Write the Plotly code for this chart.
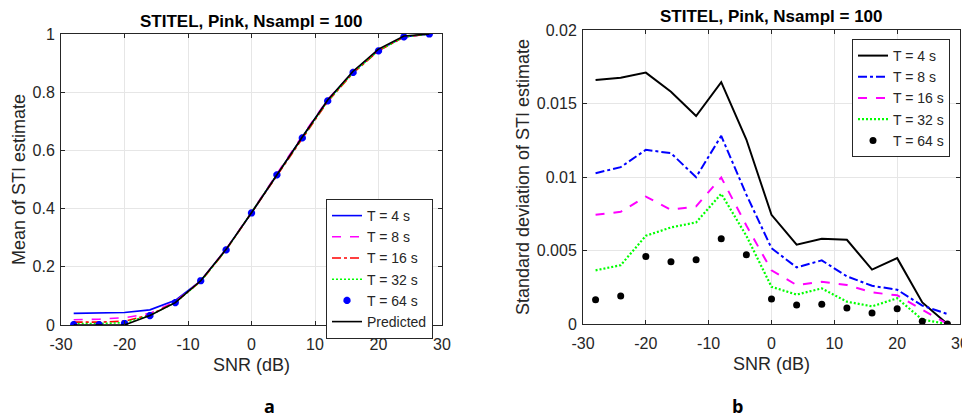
import plotly.graph_objects as go

snr = [-28, -24, -20, -16, -12, -8, -4, 0, 4, 8, 12, 16, 20, 24, 28]

# Panel a: mean of STI estimate
mean_t4 = [0.040, 0.041, 0.043, 0.052, 0.085, 0.152, 0.260, 0.386, 0.518, 0.646, 0.772, 0.870, 0.944, 0.990, 1.000]
mean_t8 = [0.018, 0.020, 0.025, 0.040, 0.080, 0.152, 0.261, 0.387, 0.520, 0.650, 0.775, 0.870, 0.944, 0.990, 1.000]
mean_t16 = [0.010, 0.010, 0.013, 0.035, 0.078, 0.150, 0.258, 0.385, 0.516, 0.643, 0.768, 0.866, 0.942, 0.990, 1.000]
mean_t32 = [0.005, 0.005, 0.008, 0.033, 0.077, 0.150, 0.258, 0.385, 0.516, 0.644, 0.770, 0.868, 0.943, 0.990, 1.000]
mean_t64 = [0.001, 0.001, 0.005, 0.032, 0.077, 0.152, 0.258, 0.385, 0.516, 0.643, 0.770, 0.868, 0.942, 0.990, 1.000]
predicted = [0.000, 0.000, 0.000, 0.033, 0.077, 0.152, 0.260, 0.386, 0.518, 0.646, 0.773, 0.872, 0.948, 0.993, 1.000]

# Panel b: standard deviation of STI estimate
sd_t4 = [0.0166, 0.01675, 0.0171, 0.0158, 0.01415, 0.01645, 0.01255, 0.00743, 0.0054, 0.0058, 0.00573, 0.0037, 0.00448, 0.00147, 0.0000]
sd_t8 = [0.01026, 0.01067, 0.01185, 0.01162, 0.00999, 0.0128, 0.0088, 0.00516, 0.00385, 0.00433, 0.00324, 0.0026, 0.00233, 0.00125, 0.00068]
sd_t16 = [0.00743, 0.00763, 0.00867, 0.00777, 0.0080, 0.00997, 0.0067, 0.00365, 0.00265, 0.00287, 0.00265, 0.00215, 0.00195, 0.0010, 0.0000]
sd_t32 = [0.00365, 0.0040, 0.0060, 0.00657, 0.00691, 0.00886, 0.0060, 0.00253, 0.0020, 0.00242, 0.00152, 0.0012, 0.00175, 0.0003, 0.0000]
sd_t64 = [0.00165, 0.0019, 0.0046, 0.00424, 0.00437, 0.0058, 0.00471, 0.0017, 0.00129, 0.00134, 0.00109, 0.00075, 0.00104, 0.00018, 0.0000]

x_ticks = [-30, -20, -10, 0, 10, 20, 30]
x_ticklabels = ["-30", "-20", "-10", "0", "10", "20", "30"]
mean_ticks = [0, 0.2, 0.4, 0.6, 0.8, 1]
mean_ticklabels = ["0", "0.2", "0.4", "0.6", "0.8", "1"]
sd_ticks = [0, 0.005, 0.01, 0.015, 0.02]
sd_ticklabels = ["0", "0.005", "0.01", "0.015", "0.02"]

title_text = "STITEL, Pink, Nsampl = 100"
FONT = "Liberation Sans, Arial, sans-serif"
TXT = "#262626"
DOTS = "2px,2px"

fig = go.Figure()

# --- left panel traces
fig.add_trace(go.Scatter(x=snr, y=mean_t4, mode="lines", name="T = 4 s",
                         line=dict(color="#0000ff", width=1.6), xaxis="x", yaxis="y", legend="legend"))
fig.add_trace(go.Scatter(x=snr, y=mean_t8, mode="lines", name="T = 8 s",
                         line=dict(color="#ff00ff", width=1.6, dash="dash"), xaxis="x", yaxis="y", legend="legend"))
fig.add_trace(go.Scatter(x=snr, y=mean_t16, mode="lines", name="T = 16 s",
                         line=dict(color="#ff0000", width=1.6, dash="dashdot"), xaxis="x", yaxis="y", legend="legend"))
fig.add_trace(go.Scatter(x=snr, y=mean_t32, mode="lines", name="T = 32 s",
                         line=dict(color="#00ff00", width=1.6, dash=DOTS), xaxis="x", yaxis="y", legend="legend"))
fig.add_trace(go.Scatter(x=snr, y=mean_t64, mode="markers", name="T = 64 s",
                         marker=dict(color="#0000ff", size=6, symbol="asterisk-open",
                                     line=dict(color="#0000ff", width=2.5)),
                         xaxis="x", yaxis="y", legend="legend"))
fig.add_trace(go.Scatter(x=snr, y=predicted, mode="lines", name="Predicted",
                         line=dict(color="#000000", width=1.6), xaxis="x", yaxis="y", legend="legend"))

# --- right panel traces
fig.add_trace(go.Scatter(x=snr, y=sd_t4, mode="lines", name="T = 4 s",
                         line=dict(color="#000000", width=2), xaxis="x2", yaxis="y2", legend="legend2"))
fig.add_trace(go.Scatter(x=snr, y=sd_t8, mode="lines", name="T = 8 s",
                         line=dict(color="#0000ff", width=2, dash="dashdot"), xaxis="x2", yaxis="y2", legend="legend2"))
fig.add_trace(go.Scatter(x=snr, y=sd_t16, mode="lines", name="T = 16 s",
                         line=dict(color="#ff00ff", width=2, dash="dash"), xaxis="x2", yaxis="y2", legend="legend2"))
fig.add_trace(go.Scatter(x=snr, y=sd_t32, mode="lines", name="T = 32 s",
                         line=dict(color="#00ff00", width=2.2, dash=DOTS), xaxis="x2", yaxis="y2", legend="legend2"))
fig.add_trace(go.Scatter(x=snr, y=sd_t64, mode="markers", name="T = 64 s",
                         marker=dict(color="#000000", size=7, symbol="circle"),
                         xaxis="x2", yaxis="y2", legend="legend2"))

# The page body adds an 8 px margin, so the figure is laid out in screen
# pixels shifted by that offset.
OFF = 8
W, H = 970 - OFF, 420 - OFF
def px_x(p):
    return (p - OFF) / W
def px_y(p):
    return 1 - (p - OFF) / H

axis_common = dict(showline=True, linecolor="#262626", linewidth=1, mirror="ticks",
                   ticks="inside", ticklen=4, tickcolor="#262626", automargin=False,
                   showgrid=True, gridcolor="#e6e6e6", gridwidth=1, zeroline=False,
                   tickfont=dict(family=FONT, size=16, color=TXT),
                   title_font=dict(family=FONT, size=18, color=TXT))

fig.update_layout(
    width=W, height=H,
    margin=dict(l=0, r=0, t=0, b=0, autoexpand=False),
    paper_bgcolor="white", plot_bgcolor="white",
    showlegend=True,
    xaxis=dict(domain=[px_x(61), px_x(442)], range=[-30, 30], tickvals=x_ticks, ticktext=x_ticklabels,
               anchor="y", ticklabelstandoff=5, title=dict(text="SNR (dB)", standoff=6), **axis_common),
    yaxis=dict(domain=[px_y(325), px_y(34)], range=[0, 1], tickvals=mean_ticks,
               ticktext=mean_ticklabels, anchor="x", ticklabelstandoff=2,
               title=dict(text="Mean of STI estimate", standoff=2), **axis_common),
    xaxis2=dict(domain=[px_x(583), px_x(960)], range=[-30, 30], tickvals=x_ticks, ticktext=x_ticklabels,
                anchor="y2", ticklabelstandoff=5, title=dict(text="SNR (dB)", standoff=6), **axis_common),
    yaxis2=dict(domain=[px_y(324), px_y(30)], range=[0, 0.02], tickvals=sd_ticks,
                ticktext=sd_ticklabels, anchor="x2", ticklabelstandoff=2,
                title=dict(text="Standard deviation of STI estimate", standoff=2), **axis_common),
    legend=dict(x=px_x(326), y=px_y(199), xanchor="left", yanchor="top",
                bgcolor="white", bordercolor="#262626", borderwidth=1,
                font=dict(family=FONT, size=14, color=TXT), tracegroupgap=0,
                itemwidth=30),
    legend2=dict(x=px_x(852), y=px_y(39), xanchor="left", yanchor="top",
                 bgcolor="white", bordercolor="#262626", borderwidth=1,
                 font=dict(family=FONT, size=14, color=TXT), tracegroupgap=0,
                 itemwidth=30),
    annotations=[
        dict(text="<b>" + title_text + "</b>", x=px_x(251), y=px_y(22), xref="paper", yref="paper",
             xanchor="center", yanchor="middle", showarrow=False,
             font=dict(family=FONT, size=17, color="#000000")),
        dict(text="<b>" + title_text + "</b>", x=px_x(771), y=px_y(17), xref="paper", yref="paper",
             xanchor="center", yanchor="middle", showarrow=False,
             font=dict(family=FONT, size=17, color="#000000")),
        dict(text="<b>a</b>", x=px_x(269), y=px_y(406), xref="paper", yref="paper",
             xanchor="center", yanchor="middle", showarrow=False,
             font=dict(family="Open Sans, sans-serif", size=18, color="#000000")),
        dict(text="<b>b</b>", x=px_x(737), y=px_y(406), xref="paper", yref="paper",
             xanchor="center", yanchor="middle", showarrow=False,
             font=dict(family="Open Sans, sans-serif", size=18, color="#000000")),
    ],
)

fig.write_html("out.html")
